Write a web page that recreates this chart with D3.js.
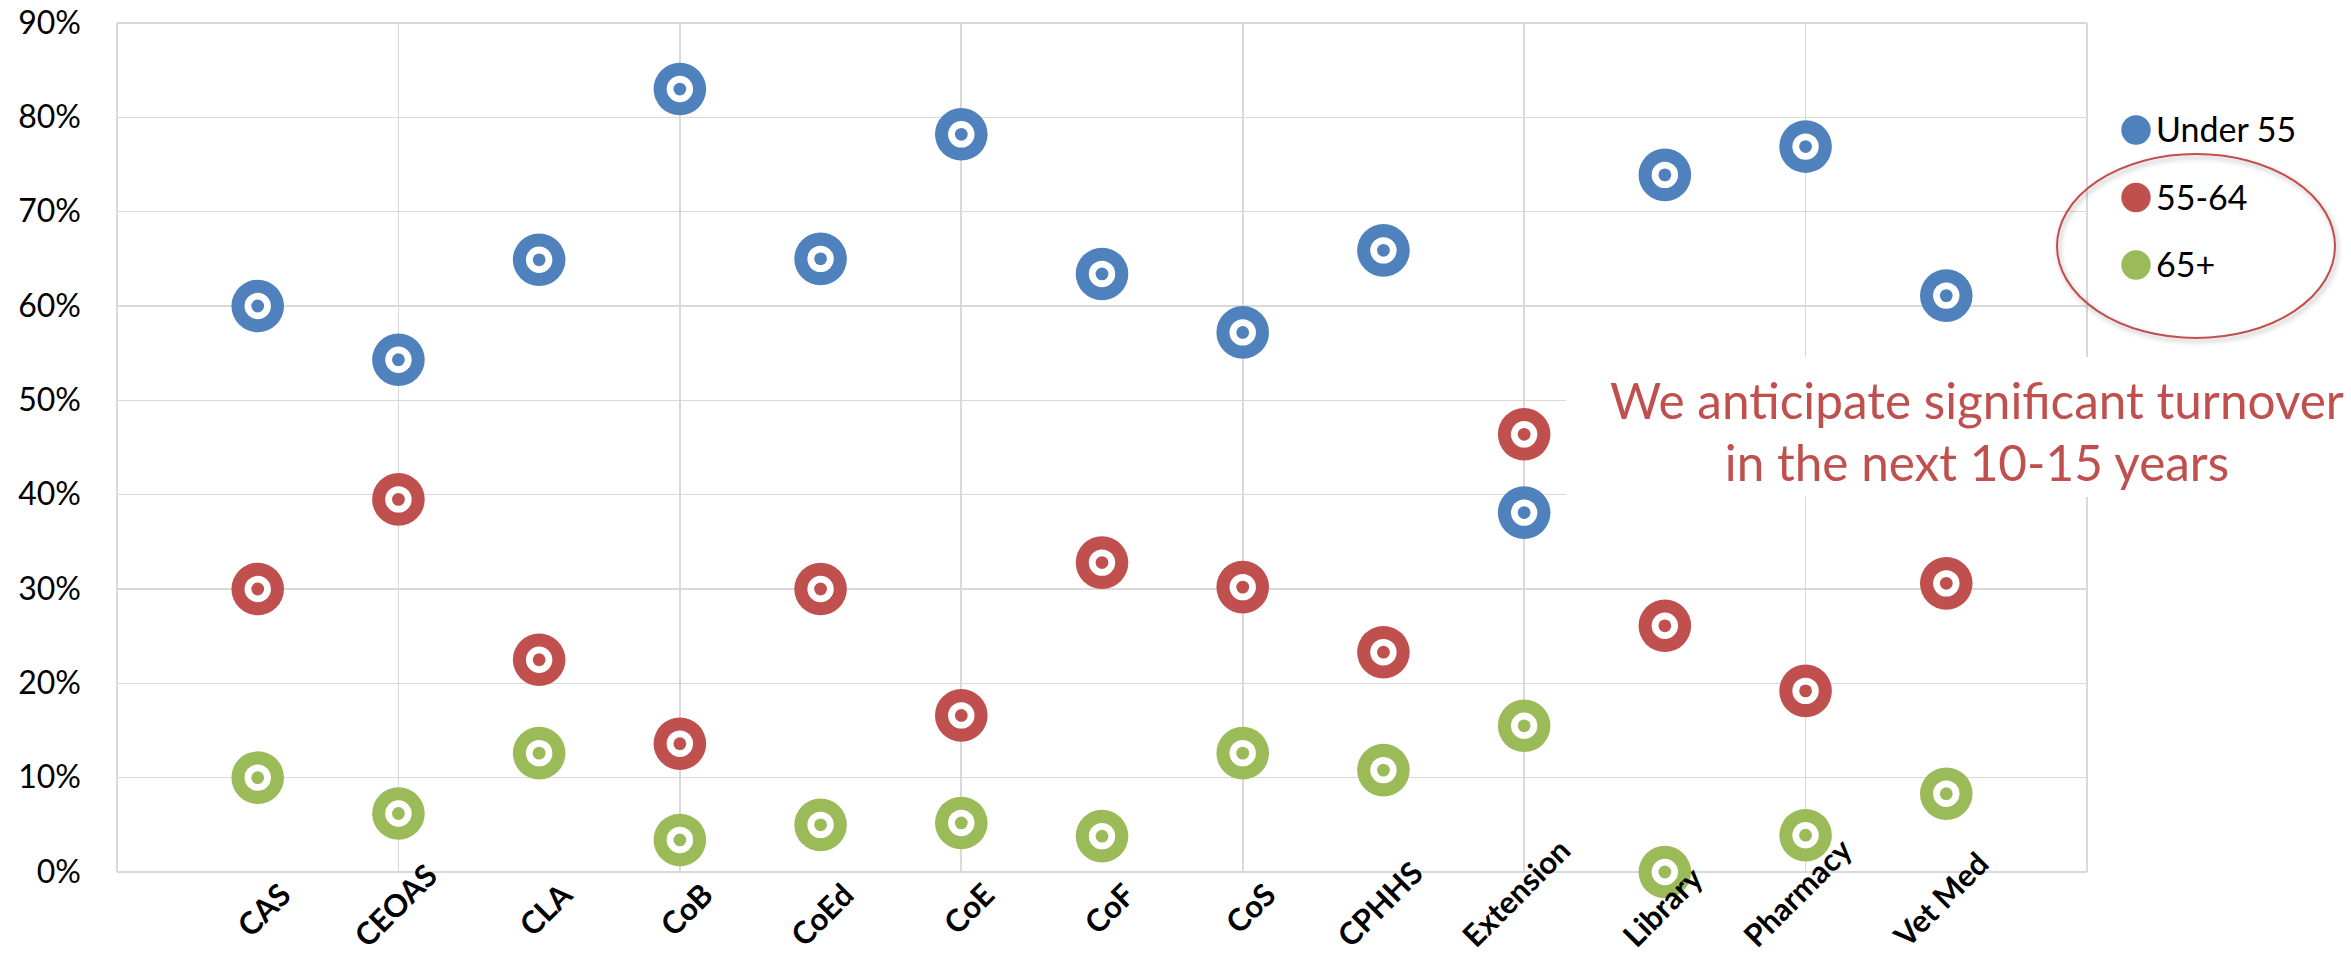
<!DOCTYPE html>
<html>
<head>
<meta charset="utf-8">
<script src="https://cdn.jsdelivr.net/npm/d3@7/dist/d3.min.js"></script>
<style>
  html, body { margin: 0; padding: 0; background: #fff; }
  svg { display: block; }
</style>
</head>
<body>
<svg id="chart" width="2351" height="954"></svg>
<script>
// Colleges / units along the horizontal axis
const categories = ["CAS", "CEOAS", "CLA", "CoB", "CoEd", "CoE", "CoF", "CoS", "CPHHS", "Extension", "Library", "Pharmacy", "Vet Med"];

// Share of faculty in each age band
const under55 = [0.600, 0.543, 0.649, 0.830, 0.650, 0.782, 0.634, 0.572, 0.659, 0.381, 0.739, 0.769, 0.611];
const age55to64 = [0.300, 0.395, 0.225, 0.136, 0.300, 0.166, 0.328, 0.302, 0.233, 0.464, 0.261, 0.192, 0.306];
const age65plus = [0.100, 0.062, 0.126, 0.034, 0.050, 0.052, 0.038, 0.126, 0.108, 0.155, 0.000, 0.039, 0.083];

const seriesNames = ["Under 55", "55-64", "65+"];
const yTicks = [0, 0.1, 0.2, 0.3, 0.4, 0.5, 0.6, 0.7, 0.8, 0.9];
const noteLines = ["We anticipate significant turnover", "in the next 10-15 years"];

const colors = ["#4f81bd", "#c0504d", "#9bbb59"];
const series = [under55, age55to64, age65plus];

const svg = d3.select("#chart");
const FONT = "Lato, 'Open Sans', sans-serif";

// Scales: categories sit at positions 1..13 on a 0..14 axis
const x = d3.scaleLinear().domain([0, categories.length + 1]).range([117, 2087]);
const y = d3.scaleLinear().domain([0, 0.9]).range([872, 23]);

const grid = svg.append("g").attr("stroke", "#d9d9d9").attr("stroke-width", 1.6).attr("shape-rendering", "crispEdges");

// Horizontal gridlines
grid.selectAll("line.h").data(yTicks).join("line")
  .attr("class", "h")
  .attr("x1", x(0)).attr("x2", x(categories.length + 1))
  .attr("y1", d => y(d)).attr("y2", d => y(d));

// Vertical gridlines every two units, plus the left edge
const xGrid = d3.range(0, categories.length + 2, 2);
grid.selectAll("line.v").data(xGrid).join("line")
  .attr("class", "v")
  .attr("x1", d => x(d)).attr("x2", d => x(d))
  .attr("y1", y(0)).attr("y2", y(0.9));

// Y axis labels
const yAxis = d3.axisLeft(y).tickValues(yTicks).tickFormat(d3.format(".0%")).tickSize(0).tickPadding(36);
const yG = svg.append("g").attr("transform", `translate(${x(0)},0)`).call(yAxis);
yG.select(".domain").remove();
yG.selectAll("text")
  .attr("font-family", FONT)
  .attr("font-size", 32)
  .attr("fill", "#000");

// White panel behind the note, hiding the grid there
svg.append("rect")
  .attr("x", 1566).attr("y", 357)
  .attr("width", 2351 - 1566).attr("height", 140)
  .attr("fill", "#fff");

// Target-style markers
const markerG = svg.append("g");
series.forEach((vals, si) => {
  const g = markerG.append("g");
  const pts = vals.map((v, i) => ({ cx: x(i + 1), cy: y(v) }));
  g.selectAll("circle.outer").data(pts).join("circle")
    .attr("cx", d => d.cx).attr("cy", d => d.cy).attr("r", 26.3)
    .attr("fill", colors[si]);
  g.selectAll("circle.ring").data(pts).join("circle")
    .attr("cx", d => d.cx).attr("cy", d => d.cy).attr("r", 13.2)
    .attr("fill", "#fff");
  g.selectAll("circle.dot").data(pts).join("circle")
    .attr("cx", d => d.cx).attr("cy", d => d.cy).attr("r", 6.4)
    .attr("fill", colors[si]);
});

// Category labels, rotated -45deg and end-anchored under each tick;
// long labels are slid up so they stay inside the chart area
const S = Math.SQRT1_2;
const labelBottom = 949;
svg.append("g").selectAll("text").data(categories).join("text")
  .attr("text-anchor", "end")
  .attr("font-family", FONT)
  .attr("font-weight", 700)
  .attr("font-size", 31)
  .attr("fill", "#000")
  .text(d => d)
  .each(function (d, i) {
    const L = this.getComputedTextLength();
    let bx = x(i + 1) + 35;
    let by = y(0) + 25;
    const overflow = by + L * S - labelBottom;
    if (overflow > 0) {
      by -= overflow;
      bx += overflow * 0.3;
    }
    d3.select(this).attr("transform", `translate(${bx},${by}) rotate(-45)`);
  });

// Legend
const legend = svg.append("g");
seriesNames.forEach((name, i) => {
  const cy = 130 + i * 67.5;
  legend.append("circle").attr("cx", 2136).attr("cy", cy).attr("r", 14.7).attr("fill", colors[i]);
  legend.append("text")
    .attr("x", 2156).attr("y", cy)
    .attr("dy", "0.36em")
    .attr("font-family", FONT)
    .attr("font-size", 34)
    .attr("fill", "#000")
    .text(name);
});

// Ellipse around the older age bands
const defs = svg.append("defs");
const f = defs.append("filter").attr("id", "soft").attr("x", "-10%").attr("y", "-10%").attr("width", "130%").attr("height", "130%");
f.append("feDropShadow").attr("dx", 2).attr("dy", 3).attr("stdDeviation", 2.5).attr("flood-color", "#000").attr("flood-opacity", 0.3);
svg.append("ellipse")
  .attr("cx", 2196).attr("cy", 246).attr("rx", 139).attr("ry", 92)
  .attr("fill", "none")
  .attr("stroke", "#c0504d")
  .attr("stroke-width", 2)
  .attr("filter", "url(#soft)");

// Note text
svg.append("g").selectAll("text").data(noteLines).join("text")
  .attr("x", 1977)
  .attr("y", (d, i) => 419 + i * 62)
  .attr("text-anchor", "middle")
  .attr("font-family", FONT)
  .attr("font-size", 49.5)
  .attr("fill", "#c0504d")
  .text(d => d);
</script>
</body>
</html>
